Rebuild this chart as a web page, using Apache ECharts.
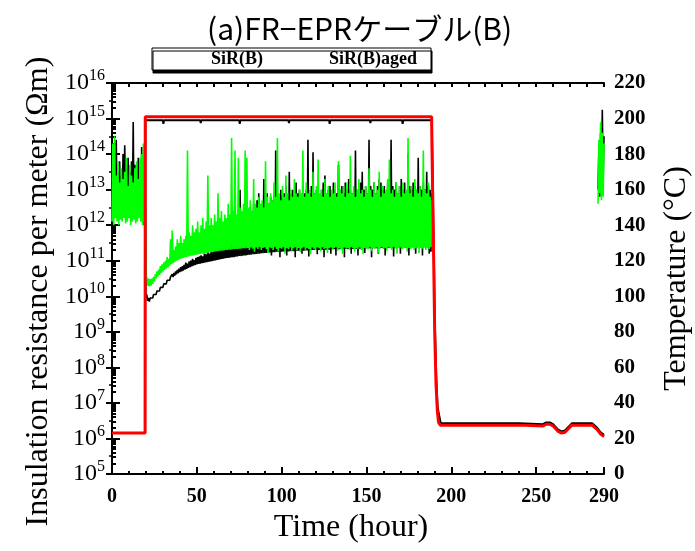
<!DOCTYPE html>
<html><head><meta charset="utf-8">
<script src="https://cdn.jsdelivr.net/npm/echarts@6/dist/echarts.min.js"></script>
<style>html,body{margin:0;padding:0;background:#fff}#c{width:695px;height:551px}</style>
</head><body><div id="c"></div>
<script>
// ---------- texts & ticks ----------
const titleText = '(a)FR\u2212EPRケーブル(B)';
const legendNames = ['SiR(B)', 'SiR(B)aged'];
const xName = 'Time (hour)';
const yLeftName = 'Insulation resistance per meter (\u03A9m)';
const yRightName = 'Temperature (\u00B0C)';
const xLabelTicks = [0, 50, 100, 150, 200, 250, 290];
const xMinorTicks = [10,20,30,40,60,70,80,90,110,120,130,140,160,170,180,190,210,220,230,240,260,270,280];
const yExponents = [5,6,7,8,9,10,11,12,13,14,15,16];
const minorMultipliers = [2,3,4,5,6,7,8,9];

// ---------- resistance data (log10 of ohm*m), hourly samples from 0 h ----------
// each hour: lower reading (lo) then upper reading half an hour later (hi)
const blackLo = [
12.6,12.4,12.8,12.5,12.3,12.7,12.5,12.4,12.9,12.6,12.4,12.7,12.5,12.3,12.6,12.8,12.4,12.5,12.2,12.0,
9.95,9.87,9.85,9.9,9.95,10.0,10.05,10.1,10.15,10.2,
10.25,10.3,10.35,10.4,10.45,10.5,10.54,10.58,10.62,10.65,
10.68,10.7,10.72,10.75,10.77,10.8,10.82,10.84,10.86,10.88,
10.9,10.91,10.92,10.93,10.94,10.95,10.96,10.97,10.98,10.99,
11.0,11.01,11.02,11.03,11.04,11.05,11.06,11.07,11.08,11.08,
11.09,11.1,11.1,11.11,11.12,11.13,11.13,11.14,11.15,11.15,
11.16,11.17,11.17,11.18,11.18,11.19,11.2,11.2,11.21,11.21,
11.22,11.22,11.23,11.23,11.15,11.24,11.24,11.25,11.25,11.1,
11.25,11.26,11.26,11.15,11.26,11.27,11.27,11.27,11.1,11.28,
11.28,11.28,11.2,11.28,11.29,11.29,11.12,11.29,11.3,11.3,
11.3,11.18,11.3,11.3,11.31,11.1,11.31,11.31,11.31,11.2,
11.32,11.32,11.15,11.32,11.32,11.32,11.33,11.1,11.33,11.33,
11.33,11.2,11.33,11.34,11.34,11.15,11.34,11.34,11.34,11.22,
11.35,11.35,11.35,11.1,11.35,11.35,11.35,11.2,11.35,11.36,
11.36,11.15,11.36,11.36,11.36,11.36,11.12,11.36,11.37,11.37,
11.2,11.37,11.37,11.37,11.37,11.15,11.37,11.38,11.38,11.2,
11.38,11.38,11.38,11.15,11.38,11.38,11.38,11.2,11.25];
const blackHi = [
13.6,13.9,14.4,13.5,13.8,13.4,14.0,14.25,13.6,13.9,13.5,13.8,14.9,13.7,13.4,13.9,13.6,14.2,13.8,13.5,
10.05,9.95,9.95,10.0,10.05,10.1,10.15,10.2,10.25,10.3,
10.35,10.4,10.45,10.5,10.55,10.62,10.66,10.7,10.74,10.78,
10.82,10.85,10.88,10.95,10.92,10.98,11.0,11.05,11.02,11.08,
11.1,11.12,11.15,11.12,11.2,11.18,11.25,11.2,11.3,11.25,
11.4,11.3,11.5,11.4,11.6,11.5,11.7,11.6,11.8,11.7,
11.9,11.8,12.0,11.9,12.2,13.0,12.1,12.3,12.2,12.4,
12.3,12.5,12.4,12.6,12.5,12.7,12.9,12.5,12.6,13.3,
12.7,12.9,12.6,12.8,12.7,12.9,14.1,12.8,12.7,13.0,
12.8,12.9,13.1,12.8,13.5,12.9,13.0,12.8,13.2,12.9,
13.0,12.8,13.1,12.9,13.0,14.4,12.9,13.1,14.05,12.9,
13.0,13.1,12.8,13.0,13.2,13.4,12.9,13.0,13.1,12.9,
13.2,13.0,12.9,13.7,13.0,13.1,12.9,13.2,13.0,13.3,
13.0,12.9,13.1,14.1,13.0,12.9,13.2,13.5,13.0,13.1,
12.9,14.4,13.1,13.0,13.2,12.9,13.1,13.3,13.2,13.0,
13.1,12.9,13.2,13.0,14.4,13.1,13.0,13.2,12.9,13.1,
13.3,13.0,13.2,12.9,14.0,13.1,13.0,13.2,13.1,13.0,
13.9,13.1,13.0,13.2,13.0,13.5,13.1,13.0,12.9];
const greenLo = [
12.1,12.0,12.2,12.1,12.0,12.15,12.1,12.2,12.05,12.1,12.2,12.0,12.1,12.15,12.05,12.1,12.2,12.1,12.0,12.1,
10.45,10.3,10.28,10.3,10.35,10.42,10.5,10.55,10.6,10.65,
10.7,10.74,10.78,10.82,10.86,10.9,10.93,10.96,11.0,11.02,
11.04,11.06,11.08,11.1,11.1,11.12,11.13,11.14,11.15,11.16,
11.17,11.18,11.19,11.2,11.2,11.21,11.22,11.23,11.24,11.24,
11.25,11.26,11.27,11.27,11.28,11.29,11.29,11.3,11.3,11.31,
11.31,11.32,11.32,11.33,11.33,11.34,11.34,11.35,11.35,11.35,
11.36,11.3,11.37,11.34,11.25,11.37,11.33,11.38,11.3,11.36,
11.38,11.32,11.22,11.37,11.35,11.3,11.38,11.33,11.27,11.36,
11.34,11.38,11.2,11.35,11.32,11.37,11.28,11.35,11.38,11.3,
11.36,11.24,11.35,11.38,11.31,11.36,11.33,11.18,11.37,11.34,
11.3,11.37,11.35,11.26,11.38,11.33,11.36,11.22,11.35,11.37,
11.32,11.36,11.38,11.28,11.35,11.33,11.2,11.37,11.34,11.36,
11.3,11.38,11.35,11.25,11.36,11.33,11.37,11.3,11.18,11.36,
11.35,11.32,11.38,11.27,11.36,11.34,11.37,11.22,11.35,11.38,
11.33,11.36,11.28,11.37,11.35,11.3,11.38,11.34,11.2,11.36,
11.37,11.32,11.35,11.38,11.26,11.36,11.33,11.37,11.3,11.35,
11.38,11.22,11.36,11.34,11.37,11.3,11.35,11.33,11.38];
const greenHi = [
14.3,14.5,13.4,13.8,13.2,13.6,13.3,13.5,13.9,13.1,13.7,13.4,13.2,13.6,13.8,13.3,13.9,14.0,14.3,13.9,
10.55,10.5,10.48,10.5,10.55,10.62,10.7,10.75,10.85,10.9,
10.95,11.0,11.1,11.05,11.6,11.85,11.3,11.4,11.6,11.5,
11.7,11.5,11.6,11.7,14.1,11.8,11.7,12.0,11.8,11.9,
12.1,11.8,12.0,12.2,11.9,12.1,13.4,12.0,12.2,12.0,
12.3,12.1,12.9,12.2,12.4,12.1,12.3,12.2,12.6,12.3,
14.45,12.4,14.1,12.3,13.9,12.5,12.4,12.6,14.1,13.9,
12.5,12.7,12.4,13.3,12.6,12.5,12.8,12.6,12.7,12.5,
13.8,12.8,12.6,12.9,12.7,13.2,12.8,14.45,12.9,12.7,
13.1,12.8,13.4,12.9,12.7,13.0,12.8,13.3,12.9,12.8,
13.0,12.9,14.1,12.8,13.2,12.9,13.0,12.8,13.5,12.9,
13.1,13.85,12.9,13.0,12.8,13.3,12.9,13.1,12.8,13.0,
12.9,13.2,12.8,13.8,13.0,12.9,13.1,12.8,13.2,12.9,
13.95,12.9,13.1,12.8,13.0,13.3,12.9,13.0,12.8,13.1,
12.9,13.6,13.0,12.8,13.2,12.9,13.0,13.5,12.8,13.1,
12.9,13.0,13.3,13.85,12.9,13.0,12.8,13.2,12.9,13.1,
12.8,13.2,12.9,13.0,14.45,12.9,13.1,12.8,13.3,13.0,
12.9,13.1,12.8,14.1,13.0,12.9,13.2,12.8,12.7];

// short burst of readings at the end of the test
const tailHours = [286.5, 287.5, 288.5, 289.5];
const blackTailLo = [13.0, 12.8, 13.1, 13.3];
const blackTailHi = [14.2, 14.6, 15.25, 14.5];
const greenTailLo = [12.6, 12.9, 12.7, 12.8];
const greenTailHi = [14.4, 14.9, 14.6, 14.3];

// ---------- temperature data (deg C) ----------
const redTempTime = [0,19.5,19.6,188.4,188.6,189.4,189.6,190.2,191,191.8,192.5,193.5,240,241,254,256,258,260,263,265,267,269,271,283,286,288,290];
const redTempVal  = [23,23,201,201,184,184,121,80,50,35,29,27.5,27.5,27,27,28,28,27,24,23,23.5,25.5,27.5,27.5,25,22.5,21];
const blackTempTime = [0,19.5,19.7,30,30.3,30.6,52,52.3,52.6,75,75.3,75.6,104,104.3,104.6,128,128.3,128.6,152,152.3,152.6,171,171.3,171.6,188.5,188.7,189.5,189.7,190.3,191.1,191.9,192.6,193.8,240,254,256,258,260,263,265,267,269,271,283,286,288,290];
const blackTempVal  = [23,23,199,199,197,199,199,197.5,199,199,197,199,199,197.5,199,199,197,199,199,197.5,199,199,197,199,199,186,186,124,85,55,38,34,28.5,28.5,28,29,29,28,25,24,24.5,26.5,28.5,28.5,26,23.5,22];

// ---------- build series data ----------
function zigzag(hours, lo, hi) {
  const out = [];
  for (let i = 0; i < lo.length; i++) {
    out.push([hours[i], Math.pow(10, lo[i])]);
    out.push([hours[i] + 0.5, Math.pow(10, hi[i])]);
  }
  return out;
}
const mainHours = blackLo.map((_, i) => i);
const blackRes = zigzag(mainHours, blackLo, blackHi).concat([[237, '-']], zigzag(tailHours, blackTailLo, blackTailHi));
const greenRes = zigzag(mainHours, greenLo, greenHi).concat([[237, '-']], zigzag(tailHours, greenTailLo, greenTailHi));
const redTemp = redTempTime.map((t, i) => [t, redTempVal[i]]);
const blackTemp = blackTempTime.map((t, i) => [t, blackTempVal[i]]);

const yMajor = yExponents.map(e => Math.pow(10, e));
const yMinor = [];
yExponents.slice(0, -1).forEach(e => minorMultipliers.forEach(m => yMinor.push(m * Math.pow(10, e))));
const xTopTicks = xLabelTicks.concat(xMinorTicks);

const serif = 'Liberation Serif';
const axisLineStyle = { color: '#000', width: 2 };

const chart = echarts.init(document.getElementById('c'));
chart.setOption({
  animation: false,
  backgroundColor: '#fff',
  title: {
    text: titleText, left: 202, top: 9,
    textStyle: { fontFamily: 'Noto Sans CJK JP', fontSize: 30, fontWeight: 'normal', color: '#000' }
  },
  legend: {
    data: legendNames, left: 152, top: 48,
    padding: [2, 14, 2, 8], itemWidth: 45, itemHeight: 14, itemGap: 15,
    selectedMode: false,
    itemStyle: { opacity: 0 }, lineStyle: { opacity: 0 },
    textStyle: { fontFamily: serif, fontSize: 18, fontWeight: 'bold', color: '#000' },
    backgroundColor: '#fff', borderColor: '#000', borderWidth: 1,
    shadowColor: '#000', shadowBlur: 0, shadowOffsetX: 1, shadowOffsetY: 3
  },
  grid: { left: 112, right: 91, top: 83, bottom: 77, containLabel: false, outerBoundsMode: 'none' },
  xAxis: [
    {
      type: 'value', min: 0, max: 290, position: 'bottom',
      axisLine: { lineStyle: axisLineStyle },
      axisTick: { inside: true, length: 7, customValues: xLabelTicks, lineStyle: { color: '#000', width: 2 } },
      axisLabel: { customValues: xLabelTicks, margin: 13, fontFamily: serif, fontSize: 20, fontWeight: 'bold', color: '#000' },
      splitLine: { show: false },
      name: xName, nameLocation: 'middle', nameGap: 27,
      nameTextStyle: { fontFamily: serif, fontSize: 32, color: '#000', padding: [0, 14, 0, 0] }
    },
    {
      type: 'value', min: 0, max: 290, position: 'bottom',
      axisLine: { show: false },
      axisTick: { inside: true, length: 3, customValues: xMinorTicks, lineStyle: { color: '#000', width: 2 } },
      axisLabel: { show: false }, splitLine: { show: false }
    },
    {
      type: 'value', min: 0, max: 290, position: 'top',
      axisLine: { lineStyle: axisLineStyle },
      axisTick: { inside: true, length: 4, customValues: xTopTicks, lineStyle: { color: '#000', width: 2 } },
      axisLabel: { show: false }, splitLine: { show: false }
    }
  ],
  yAxis: [
    {
      type: 'log', logBase: 10, min: 1e5, max: 1e16, position: 'left',
      axisLine: { show: true, lineStyle: axisLineStyle },
      axisTick: { show: true, inside: true, length: 8, customValues: yMajor, lineStyle: { color: '#000', width: 2 } },
      axisLabel: {
        customValues: yMajor, margin: 7, color: '#000',
        formatter: v => '{b|10}{s|' + Math.round(Math.log10(v)) + '}',
        rich: {
          b: { fontFamily: serif, fontSize: 24, lineHeight: 30, color: '#000', verticalAlign: 'middle' },
          s: { fontFamily: serif, fontSize: 16, lineHeight: 16, color: '#000', verticalAlign: 'top' }
        }
      },
      splitLine: { show: false },
      name: yLeftName, nameLocation: 'middle', nameRotate: 90, nameGap: 52,
      nameTextStyle: { fontFamily: serif, fontSize: 32, color: '#000', padding: [0, 26, 0, 0] }
    },
    {
      type: 'log', logBase: 10, min: 1e5, max: 1e16, position: 'left',
      axisLine: { show: false },
      axisTick: { show: true, inside: true, length: 4, customValues: yMinor, lineStyle: { color: '#000', width: 2 } },
      axisLabel: { show: false }, splitLine: { show: false }
    },
    {
      type: 'value', min: 0, max: 220, interval: 20, position: 'right',
      axisLine: { show: true, lineStyle: axisLineStyle },
      axisTick: { show: true, inside: true, length: 6, lineStyle: { color: '#000', width: 2 } },
      minorTick: { show: true, splitNumber: 2, length: 3, lineStyle: { color: '#000', width: 1.5 } },
      axisLabel: { margin: 10, fontFamily: serif, fontSize: 21, fontWeight: 'bold', color: '#000' },
      splitLine: { show: false }, minorSplitLine: { show: false },
      name: yRightName, nameLocation: 'middle', nameRotate: 90, nameGap: 57,
      nameTextStyle: { fontFamily: serif, fontSize: 32, color: '#000' }
    }
  ],
  series: [
    { name: legendNames[0], type: 'line', yAxisIndex: 0, data: blackRes, symbol: 'none', z: 2,
      lineStyle: { color: '#000', width: 1.6 }, itemStyle: { color: '#000' } },
    { name: legendNames[1], type: 'line', yAxisIndex: 0, data: greenRes, symbol: 'none', z: 3,
      lineStyle: { color: '#00ff00', width: 1.6 }, itemStyle: { color: '#00ff00' } },
    { name: 'T-SiR(B)', type: 'line', yAxisIndex: 2, data: blackTemp, symbol: 'none', z: 4,
      lineStyle: { color: '#000', width: 2 } },
    { name: 'T-SiR(B)aged', type: 'line', yAxisIndex: 2, data: redTemp, symbol: 'none', z: 5,
      lineStyle: { color: '#ff0000', width: 3 } }
  ]
});
</script></body></html>
